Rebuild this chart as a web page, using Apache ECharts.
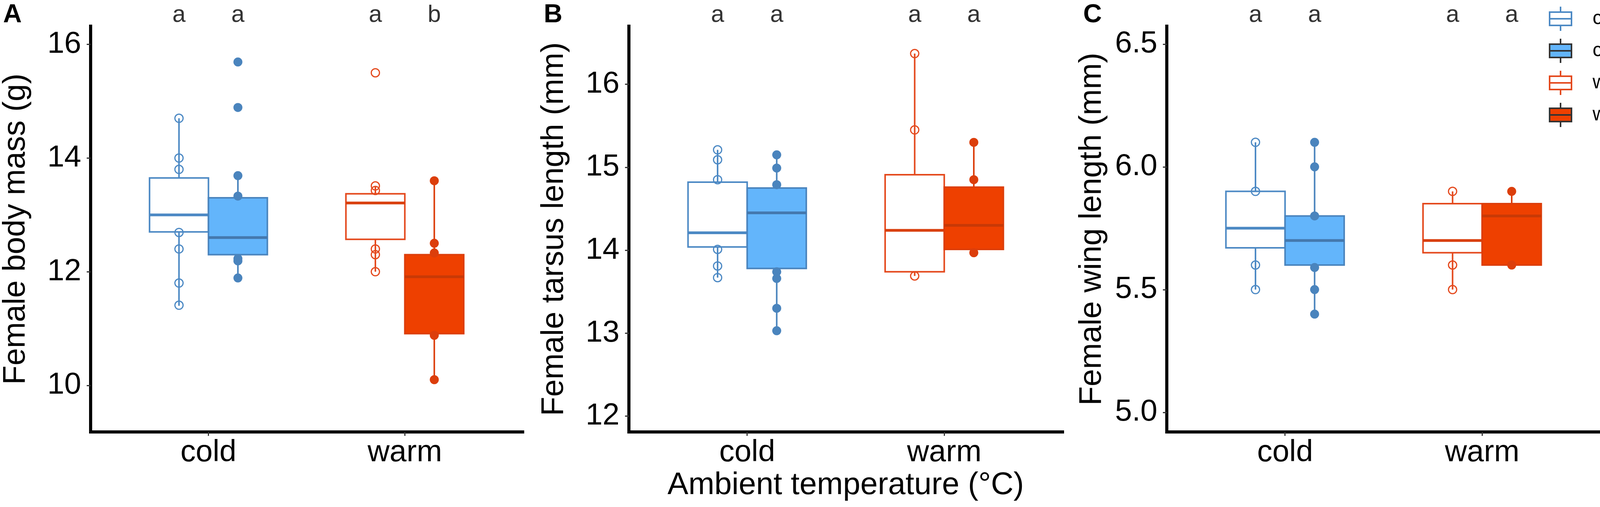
<!DOCTYPE html>
<html>
<head>
<meta charset="utf-8">
<script src="https://cdn.jsdelivr.net/npm/echarts@6/dist/echarts.min.js"></script>
<style>
html, body { margin: 0; padding: 0; background: #fff; }
#chart { width: 4550px; height: 1297px; }
</style>
</head>
<body>
<div id="chart"></div>
<script>
var categories = ['cold', 'warm'];
var groups = ['cold  feather-clipped', 'cold  unclipped', 'warm  feather-clipped', 'warm  unclipped'];

// each box: lower whisker, Q1, median, Q3, upper whisker
var massBox = [
  [11.4, 12.7, 13.0, 13.65, 14.7],
  [11.9, 12.3, 12.6, 13.3, 13.7],
  [12.0, 12.57, 13.21, 13.37, 13.5],
  [10.1, 10.91, 11.91, 12.3, 13.6]
];
var massPoints = [
  [14.7, 14.0, 13.8, 12.69, 12.4, 11.8, 11.41],
  [15.69, 14.89, 13.69, 13.33, 12.23, 12.19, 11.89],
  [15.5, 13.51, 13.43, 12.4, 12.3, 12.0],
  [13.6, 12.5, 12.33, 10.88, 10.1]
];
var massLetters = ['a', 'a', 'a', 'b'];
var massTicks = [10, 12, 14, 16];

var tarsusBox = [
  [13.67, 14.04, 14.21, 14.82, 15.21],
  [13.03, 13.78, 14.45, 14.75, 15.15],
  [13.69, 13.74, 14.24, 14.91, 16.37],
  [13.97, 14.01, 14.3, 14.76, 15.3]
];
var tarsusPoints = [
  [15.21, 15.09, 14.85, 14.01, 13.81, 13.67],
  [15.15, 14.99, 14.79, 13.74, 13.66, 13.3, 13.03],
  [16.37, 15.45, 13.69],
  [15.3, 14.85, 13.97]
];
var tarsusLetters = ['a', 'a', 'a', 'a'];
var tarsusTicks = [12, 13, 14, 15, 16];

var wingBox = [
  [5.5, 5.67, 5.75, 5.9, 6.1],
  [5.4, 5.6, 5.7, 5.8, 6.1],
  [5.5, 5.65, 5.7, 5.85, 5.9],
  [5.6, 5.6, 5.8, 5.85, 5.9]
];
var wingPoints = [
  [6.1, 5.9, 5.6, 5.5],
  [6.1, 6.0, 5.8, 5.59, 5.5, 5.4],
  [5.9, 5.6, 5.5],
  [5.9, 5.6]
];
var wingLetters = ['a', 'a', 'a', 'a'];
var wingTicks = [5.0, 5.5, 6.0, 6.5];

var FONT = 'Liberation Sans';
var styles = [
  { fill: '#ffffff', line: '#4c89c4', median: '#4c89c4', point: '#4c89c4', legendStroke: '#4c89c4', open: true },
  { fill: '#63b5fb', line: '#4a84bd', median: '#4478ae', point: '#4a84bd', legendStroke: '#333333', open: false },
  { fill: '#ffffff', line: '#e4491d', median: '#d9400f', point: '#e4491d', legendStroke: '#e4491d', open: true },
  { fill: '#ee4000', line: '#dc3e0b', median: '#c83906', point: '#dc3e0b', legendStroke: '#333333', open: false }
];

var panels = [
  { box: massBox, points: massPoints, letters: massLetters, ticks: massTicks, title: 'Female body mass (g)', min: 9.18, max: 16.32, left: 228, digits: 0 },
  { box: tarsusBox, points: tarsusPoints, letters: tarsusLetters, ticks: tarsusTicks, title: 'Female tarsus length (mm)', min: 11.81, max: 16.70, left: 1610, digits: 0 },
  { box: wingBox, points: wingPoints, letters: wingLetters, ticks: wingTicks, title: 'Female wing length (mm)', min: 4.92, max: 6.573, left: 2987, digits: 1 }
];

var boxWidth = 0.3;
function xOf(g) {
  return Math.floor(g / 2) + 1 + (g % 2 ? boxWidth / 2 : -boxWidth / 2);
}

function boxRenderer(st) {
  return function (params, api) {
    var x = api.value(0);
    var lo = api.coord([x, api.value(1)]);
    var q1 = api.coord([x, api.value(2)]);
    var md = api.coord([x, api.value(3)]);
    var q3 = api.coord([x, api.value(4)]);
    var hi = api.coord([x, api.value(5)]);
    var hw = api.size([boxWidth, 0])[0] / 2;
    return {
      type: 'group',
      children: [
        { type: 'line', shape: { x1: lo[0], y1: lo[1], x2: q1[0], y2: q1[1] }, style: { stroke: st.line, lineWidth: 4 } },
        { type: 'line', shape: { x1: q3[0], y1: q3[1], x2: hi[0], y2: hi[1] }, style: { stroke: st.line, lineWidth: 4 } },
        { type: 'rect', shape: { x: q3[0] - hw, y: q3[1], width: hw * 2, height: q1[1] - q3[1] }, style: { fill: st.fill, stroke: st.line, lineWidth: 4 } },
        { type: 'line', shape: { x1: md[0] - hw, y1: md[1], x2: md[0] + hw, y2: md[1] }, style: { stroke: st.median, lineWidth: 7 } }
      ]
    };
  };
}

var grids = [], xAxes = [], yAxes = [], series = [];
panels.forEach(function (p, i) {
  grids.push({ left: p.left, top: 67, width: 1110, height: 1038 });
  xAxes.push({
    type: 'value', gridIndex: i, min: 0.4, max: 2.6,
    name: i === 1 ? 'Ambient temperature (\u00B0C)' : '',
    nameLocation: 'middle', nameGap: 89,
    nameTextStyle: { fontSize: 80, color: '#000', fontFamily: FONT },
    splitLine: { show: false },
    axisLine: { lineStyle: { color: '#000', width: 8, cap: 'square' } },
    axisTick: { customValues: [1, 2], length: 10, lineStyle: { color: '#333', width: 3 } },
    axisLabel: {
      customValues: [1, 2], fontSize: 78, color: '#000', fontFamily: FONT, margin: 14,
      formatter: function (v) { return categories[Math.round(v) - 1]; }
    }
  });
  yAxes.push({
    type: 'value', gridIndex: i, min: p.min, max: p.max,
    name: p.title, nameLocation: 'middle', nameGap: 151,
    nameTextStyle: { fontSize: 80, color: '#000', fontFamily: FONT },
    splitLine: { show: false },
    axisLine: { show: true, lineStyle: { color: '#000', width: 8, cap: 'square' } },
    axisTick: { show: true, customValues: p.ticks, length: 10, lineStyle: { color: '#333', width: 3 } },
    axisLabel: {
      customValues: p.ticks, fontSize: 78, color: '#000', fontFamily: FONT, margin: 24,
      formatter: function (v) { return v.toFixed(p.digits); }
    }
  });

  groups.forEach(function (name, g) {
    var st = styles[g];
    series.push({
      type: 'custom', name: name, xAxisIndex: i, yAxisIndex: i, z: 2,
      encode: { x: 0, y: [1, 2, 3, 4, 5] },
      data: [[xOf(g)].concat(p.box[g])],
      renderItem: boxRenderer(st)
    });
    series.push({
      type: 'scatter', name: name, xAxisIndex: i, yAxisIndex: i, z: 3,
      symbol: 'circle', symbolSize: st.open ? 21 : 23,
      itemStyle: st.open
        ? { color: 'rgba(255,255,255,0)', borderColor: st.point, borderWidth: 3, opacity: 1 }
        : { color: st.point, opacity: 1 },
      data: p.points[g].map(function (v) { return [xOf(g), v]; })
    });
  });

  series.push({
    type: 'scatter', xAxisIndex: i, yAxisIndex: i, z: 4, clip: false,
    symbolSize: 1, itemStyle: { color: 'rgba(0,0,0,0)' },
    data: p.letters.map(function (l, g) { return [xOf(g), p.max]; }),
    label: {
      show: true, position: 'inside', offset: [0, -28],
      fontSize: 61, color: '#000', fontFamily: FONT,
      formatter: function (prm) { return p.letters[prm.dataIndex]; }
    }
  });
});

var legendIcon = 'path://M14,0L14,7M0,7L28,7L28,24L0,24ZM0,15.5L28,15.5M14,24L14,31';

var chart = echarts.init(document.getElementById('chart'), null, { renderer: 'canvas' });
chart.setOption({
  backgroundColor: '#fff',
  animation: false,
  grid: grids,
  xAxis: xAxes,
  yAxis: yAxes,
  legend: {
    orient: 'vertical', left: 3965, top: 15, padding: 0,
    itemWidth: 56, itemHeight: 62, itemGap: 16,
    formatter: function (name) { return '{gap|}{t|' + name + '}'; },
    textStyle: {
      fontSize: 50, color: '#000', fontFamily: FONT,
      rich: {
        gap: { width: 49 },
        t: { fontSize: 50, color: '#000', fontFamily: FONT }
      }
    },
    data: groups.map(function (name, g) {
      return {
        name: name, icon: legendIcon,
        itemStyle: { color: styles[g].fill, borderColor: styles[g].legendStroke, borderWidth: 4 }
      };
    })
  },
  graphic: [
    { type: 'text', left: 8, top: 6, style: { text: 'A', fontSize: 66, fontWeight: 'bold', fill: '#000', fontFamily: FONT } },
    { type: 'text', left: 1392, top: 6, style: { text: 'B', fontSize: 66, fontWeight: 'bold', fill: '#000', fontFamily: FONT } },
    { type: 'text', left: 2773, top: 6, style: { text: 'C', fontSize: 66, fontWeight: 'bold', fill: '#000', fontFamily: FONT } }
  ],
  series: series
});
</script>
</body>
</html>
